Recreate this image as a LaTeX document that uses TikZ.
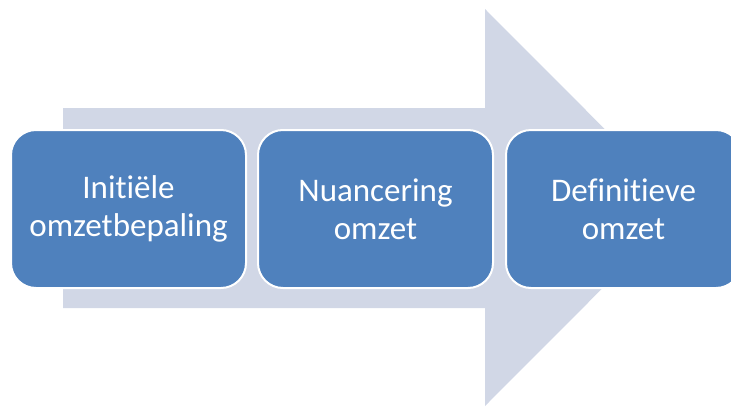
\documentclass[tikz,border=0pt]{standalone}
\usepackage{fontspec}
\setmainfont{Carlito}[Ligatures=NoCommon]
\definecolor{boxblue}{HTML}{4F81BD}
\definecolor{arrowgrey}{HTML}{D1D7E6}
\begin{document}
\begin{tikzpicture}[x=1pt,y=-1pt,
  stepbox/.style={draw=white, line width=2pt, fill=boxblue, rounded corners=25pt,
    minimum width=235pt, minimum height=158pt, inner sep=0pt, text=white,
    align=center, font=\fontsize{33}{38}\selectfont}]
\useasboundingbox (0,0) rectangle (731,407);
\clip (0,0) rectangle (731,407);
\fill[arrowgrey] (63,108) -- (485,108) -- (485,9) -- (683,207.5) -- (485,406) -- (485,308) -- (63,308) -- cycle;
\node[stepbox] (a) at (128.5,209) {Initiële\\omzetbepaling};
\node[stepbox] (b) at (375.5,209) {Nuancering\\omzet};
\node[stepbox] (c) at (623.5,209) {Definitieve\\omzet};
\end{tikzpicture}
\end{document}
